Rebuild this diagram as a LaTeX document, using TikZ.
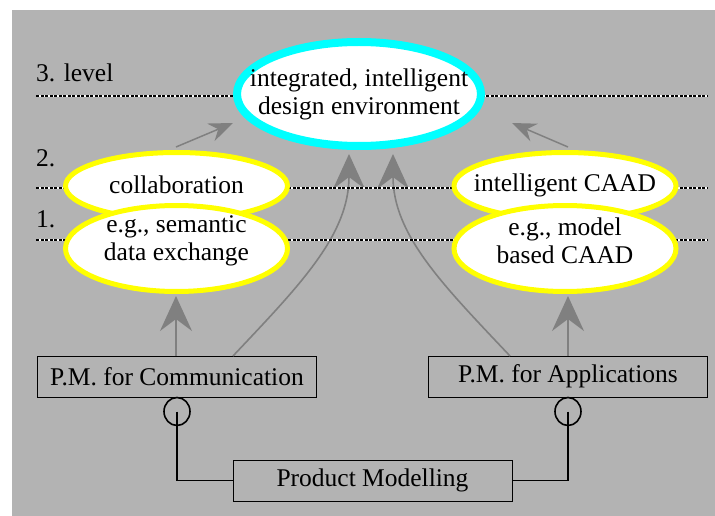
\documentclass[tikz,border=0pt]{standalone}
\usepackage{fontspec}
\setmainfont{Liberation Serif}[Ligatures=TeX]
\newfontfamily\tnr{Liberation Serif}
\usetikzlibrary{shapes.geometric,arrows.meta}
\definecolor{bggray}{HTML}{B3B3B3}
\definecolor{arrgray}{HTML}{808080}
\definecolor{ycol}{HTML}{FFFF00}
\definecolor{ccol}{HTML}{00FFFF}
\tikzset{
  txt/.style={font=\tnr\fontsize{25.5}{28}\selectfont, align=center, inner sep=0pt},
  lvl/.style={font=\tnr\fontsize{25.5}{28}\selectfont, anchor=base west, inner sep=0pt},
  yell/.style={ellipse, draw=ycol, line width=5pt, fill=white, inner sep=0pt},
  cyell/.style={ellipse, draw=ccol, line width=8pt, fill=white, inner sep=0pt},
  pmbox/.style={rectangle, draw=black, line width=1pt, minimum width=279pt, minimum height=41pt, inner sep=0pt, font=\tnr\fontsize{25.5}{28}\selectfont},
  ring/.style={ellipse, draw=black, line width=1.6pt, minimum width=26pt, minimum height=28pt, inner sep=0pt},
  bigarr/.style={draw=arrgray, line width=1.6pt, -{Stealth[length=35pt,width=32pt,inset=12pt]}},
  smallarr/.style={draw=arrgray, line width=1.5pt, -{Stealth[length=24pt,width=19pt,inset=8pt]}},
  lvlline/.style={line width=1.2pt},
  conn/.style={draw=black, line width=1.6pt}
}
\begin{document}
\begin{tikzpicture}[x=1pt,y=-1pt]
\useasboundingbox (0,0) rectangle (715,516);
\fill[bggray] (12,10) rectangle (715,516);

% named anchor points
\coordinate (l3a) at (36,96);  \coordinate (l3b) at (708,96);
\coordinate (l2a) at (36,188); \coordinate (l2b) at (708,188);
\coordinate (l1a) at (36,240); \coordinate (l1b) at (708,240);

% boxes
\node[pmbox] (comm) at (177,376.5) {P.M. for Communication};
\node[pmbox] (appl) at (568,376.5) {P.M. for Applications};
\node[pmbox] (prod) at (372.5,480.5) {Product Modelling};

% gray arrows (behind level lines)
\coordinate (cs) at (233,356);
\coordinate (as) at (510,356);
\coordinate (ct) at (349,154);
\coordinate (at) at (393,154);
\draw[bigarr] (cs) .. controls (300,285) and (349,235) .. (ct);
\draw[bigarr] (as) .. controls (443,285) and (393,235) .. (at);
\coordinate (cst) at (176,356); \coordinate (cstt) at (176,296);
\coordinate (ast) at (568,356); \coordinate (astt) at (568,296);
\draw[bigarr] (cst) -- (cstt);
\draw[bigarr] (ast) -- (astt);
\coordinate (s1a) at (176,147); \coordinate (s1b) at (233,123);
\coordinate (s2a) at (568,147); \coordinate (s2b) at (512,123);
\draw[smallarr] (s1a) -- (s1b);
\draw[smallarr] (s2a) -- (s2b);

% level lines
\foreach \a/\b in {l3a/l3b,l2a/l2b,l1a/l1b}{
  \draw[white,lvlline] (\a) -- (\b);
  \draw[black,lvlline,dash pattern=on 3pt off 1.5pt] (\a) -- (\b);
}
\node[lvl] (lab3) at (36,82) {3. level};
\node[lvl] (lab2) at (36,167) {2.};
\node[lvl] (lab1) at (36,227) {1.};

% ellipses
\node[cyell, minimum width=244pt, minimum height=104pt] (ide) at (359,94) {};
\node[txt] (idet) at (359,94) {integrated, intelligent\\design environment};

\node[yell, minimum width=222pt, minimum height=67pt] (collab) at (176.5,186) {};
\node[txt] (collabt) at (176.5,185) {collaboration};
\node[yell, minimum width=222pt, minimum height=86pt] (sde) at (176.5,248.5) {};
\node[txt] (sdet) at (176.5,241) {e.g., semantic\\data exchange};

\node[yell, minimum width=222pt, minimum height=67pt] (icaad) at (565,186) {};
\node[txt] (icaadt) at (565,185) {intelligent CAAD};
\node[yell, minimum width=222pt, minimum height=86pt] (mcaad) at (565,248.5) {};
\node[txt] (mcaadt) at (565,241) {e.g., model\\based CAAD};

% rings and connectors
\node[ring] (r1) at (177,411.5) {};
\node[ring] (r2) at (568,411.5) {};
\draw[conn] (r1.center) |- (prod.west);
\draw[conn] (r2.center) |- (prod.east);
\end{tikzpicture}
\end{document}
